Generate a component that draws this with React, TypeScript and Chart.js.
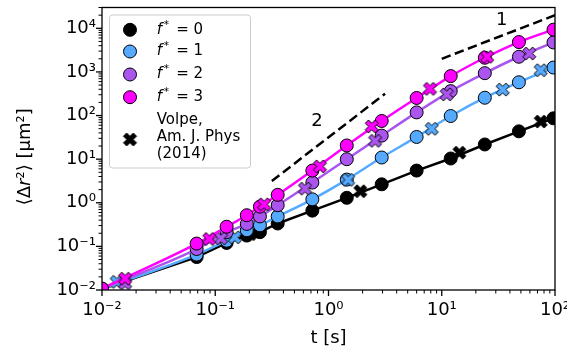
import React, { useEffect, useRef } from 'react';
import { Chart, registerables } from 'chart.js';

Chart.register(...registerables);

// ---- data ----
const times = [0.01, 0.0685, 0.126, 0.19, 0.248, 0.356, 0.72, 1.45, 2.95, 6.0, 12, 24, 48, 97];
const msdF0 = [0.0105, 0.057, 0.12, 0.177, 0.212, 0.335, 0.66, 1.3, 2.65, 5.47, 10.35, 21.7, 43.4, 86.5];
const msdF1 = [0.0105, 0.065, 0.135, 0.235, 0.305, 0.486, 1.2, 3.4, 10.9, 32.3, 97.5, 256, 579, 1259];
const msdF2 = [0.0107, 0.087, 0.212, 0.327, 0.486, 0.88, 2.91, 9.97, 34.6, 118, 363, 937, 2228, 4745];
const msdF3 = [0.0108, 0.116, 0.282, 0.518, 0.817, 1.52, 5.47, 20.6, 75, 253, 802, 2113, 4842, 9310];

const volpeF0T = [0.203, 1.91, 14.3, 74.8];
const volpeF0 = [0.191, 1.84, 14.1, 72.9];
const volpeF1T = [0.0135, 0.149, 1.49, 8.15, 34.5, 74.8];
const volpeF1 = [0.0154, 0.161, 3.36, 49.7, 394, 1094];
const volpeF2T = [0.016, 0.1125, 0.62, 2.58, 11.06, 59.3];
const volpeF2 = [0.0143, 0.153, 2.11, 26.3, 305, 2640];
const volpeF3T = [0.016, 0.0886, 0.27, 0.84, 2.41, 7.87, 25.2];
const volpeF3 = [0.0182, 0.148, 0.92, 6.83, 56.2, 409, 2228];

const slope2T = [0.316, 3.16];
const slope2Y = [3.16, 316];
const slope1T = [10, 100];
const slope1Y = [2000, 20000];
const slopeLabels = ['2', '1'];
const slopeLabelT = [0.79, 33.8];
const slopeLabelY = [73, 15400];

const fValues = ['0', '1', '2', '3'];
const volpeLabel = ['Volpe,', 'Am. J. Phys', '(2014)'];
const xTitle = 't [s]';
const xMin = 0.01, xMax = 100;
const yMin = 0.01, yMax = 30000;
const xDecades = [-2, -1, 0, 1, 2];
const yDecades = [-2, -1, 0, 1, 2, 3, 4];

// ---- styles ----
const COLORS = ['#000000', '#55aaff', '#aa55ee', '#ff00ff'];
const FONT = 'DejaVu Sans';

const SUP: Record<string, string> = { '-': '⁻', '0': '⁰', '1': '¹', '2': '²', '3': '³', '4': '⁴', '5': '⁵' };
const powLabel = (e: number) => '10' + String(e).split('').map((c) => SUP[c]).join('');

function makeTicks(decades: number[], max: number) {
  const out: { value: number; major: boolean }[] = [];
  for (const e of decades) {
    for (let m = 1; m <= 9; m++) {
      const v = m * Math.pow(10, e);
      if (v <= max * 1.0001) out.push({ value: v, major: m === 1 });
    }
  }
  return out;
}

function makeXMarker(fill: string): HTMLCanvasElement {
  const c = document.createElement('canvas');
  const size = 17;
  c.width = size;
  c.height = size;
  const g = c.getContext('2d')!;
  const s = 13 / 4;
  const verts = [[-1, -2], [0, -1], [1, -2], [2, -1], [1, 0], [2, 1], [1, 2], [0, 1], [-1, 2], [-2, 1], [-1, 0], [-2, -1]];
  g.translate(size / 2, size / 2);
  g.beginPath();
  verts.forEach(([x, y], i) => (i ? g.lineTo(x * s, y * s) : g.moveTo(x * s, y * s)));
  g.closePath();
  g.fillStyle = fill;
  g.fill();
  g.lineWidth = 1;
  g.strokeStyle = '#000';
  g.stroke();
  return c;
}

const pts = (xs: number[], ys: number[]) => xs.map((x, i) => ({ x, y: ys[i] }));

const decorPlugin = {
  id: 'decor',
  afterDatasetsDraw(chart: any) {
    const { ctx, chartArea: a, scales } = chart;
    ctx.save();
    ctx.strokeStyle = '#000';
    // tick marks
    for (const t of scales.x.ticks) {
      const px = scales.x.getPixelForValue(t.value);
      if (px < a.left - 0.5 || px > a.right + 0.5) continue;
      ctx.lineWidth = t.major ? 1.3 : 1;
      ctx.beginPath();
      ctx.moveTo(px, a.bottom);
      ctx.lineTo(px, a.bottom + (t.major ? 6 : 3.5));
      ctx.stroke();
    }
    for (const t of scales.y.ticks) {
      const py = scales.y.getPixelForValue(t.value);
      if (py < a.top - 0.5 || py > a.bottom + 0.5) continue;
      ctx.lineWidth = t.major ? 1.3 : 1;
      ctx.beginPath();
      ctx.moveTo(a.left, py);
      ctx.lineTo(a.left - (t.major ? 6 : 3.5), py);
      ctx.stroke();
    }
    ctx.lineWidth = 1.3;
    ctx.strokeRect(a.left, a.top, a.right - a.left, a.bottom - a.top);

    // slope labels
    ctx.fillStyle = '#000';
    ctx.font = `18px ${FONT}`;
    ctx.textAlign = 'center';
    ctx.textBaseline = 'middle';
    slopeLabels.forEach((s, i) => {
      ctx.fillText(s, scales.x.getPixelForValue(slopeLabelT[i]), scales.y.getPixelForValue(slopeLabelY[i]));
    });

    // y-axis title
    ctx.save();
    ctx.translate(25, (a.top + a.bottom) / 2 + 8);
    ctx.rotate(-Math.PI / 2);
    const segs = [
      { t: '⟨Δ', f: `18px ${FONT}` },
      { t: 'r', f: `italic 18px ${FONT}` },
      { t: '²⟩ [μm²]', f: `18px ${FONT}` },
    ];
    let total = 0;
    for (const s of segs) { ctx.font = s.f; total += ctx.measureText(s.t).width; }
    let x = -total / 2;
    ctx.textAlign = 'left';
    for (const s of segs) { ctx.font = s.f; ctx.fillText(s.t, x, 0); x += ctx.measureText(s.t).width; }
    ctx.restore();

    // legend
    const lx = a.left + 7.5, ly = a.top + 7.5, lw = 141, lh = 153;
    ctx.beginPath();
    (ctx as any).roundRect(lx, ly, lw, lh, 3);
    ctx.fillStyle = 'rgba(255,255,255,0.8)';
    ctx.fill();
    ctx.lineWidth = 1;
    ctx.strokeStyle = '#cccccc';
    ctx.stroke();
    const mx = a.left + 28;
    const tx = a.left + 54.7;
    const rowY = [22.3, 44, 67, 89.7];
    fValues.forEach((v, i) => {
      const y = a.top + rowY[i];
      ctx.beginPath();
      ctx.arc(mx, y, 6.5, 0, Math.PI * 2);
      ctx.fillStyle = COLORS[i];
      ctx.fill();
      ctx.lineWidth = 1;
      ctx.strokeStyle = '#000';
      ctx.stroke();
      ctx.fillStyle = '#000';
      ctx.textAlign = 'left';
      ctx.textBaseline = 'middle';
      ctx.font = `italic 15px ${FONT}`;
      ctx.fillText('f', tx, y);
      ctx.font = `10.5px ${FONT}`;
      ctx.fillText('*', tx + 7, y - 5);
      ctx.font = `15px ${FONT}`;
      ctx.fillText('= ' + v, tx + 19.5, y);
    });
    const xm = makeXMarker('#000');
    ctx.drawImage(xm, mx - 8.5, a.top + 132 - 8.5);
    ctx.font = `15px ${FONT}`;
    ctx.fillStyle = '#000';
    volpeLabel.forEach((s, i) => ctx.fillText(s, tx, a.top + 113 + i * 16.7));
    ctx.restore();
  },
};

export default function App() {
  const ref = useRef<HTMLCanvasElement | null>(null);
  useEffect(() => {
    document.body.style.margin = '0';
    Chart.defaults.font.family = FONT;
    Chart.defaults.color = '#000';
    const msd = [msdF0, msdF1, msdF2, msdF3];
    const vT = [volpeF0T, volpeF1T, volpeF2T, volpeF3T];
    const vY = [volpeF0, volpeF1, volpeF2, volpeF3];
    const datasets: any[] = [];
    datasets.push({
      data: pts(slope2T, slope2Y), showLine: true, borderColor: '#000', borderWidth: 2.5,
      borderDash: [9.5, 4.5], pointRadius: 0, order: 20, clip: 0,
    });
    datasets.push({
      data: pts(slope1T, slope1Y), showLine: true, borderColor: '#000', borderWidth: 2.5,
      borderDash: [9.5, 4.5], pointRadius: 0, order: 20, clip: 0,
    });
    for (let i = 0; i < 4; i++) {
      datasets.push({
        data: pts(times, msd[i]), showLine: true, borderColor: COLORS[i], borderWidth: 2.5,
        cubicInterpolationMode: i === 0 ? 'default' : 'monotone', tension: 0,
        pointRadius: 6.5, pointBackgroundColor: COLORS[i], pointBorderColor: '#000', pointBorderWidth: 1,
        order: 10 - i * 2, clip: 0,
      });
      datasets.push({
        data: pts(vT[i], vY[i]), showLine: false, pointStyle: makeXMarker(COLORS[i]),
        pointRadius: 6.5, order: 9 - i * 2, clip: 0,
      });
    }
    const chart = new Chart(ref.current!, {
      type: 'scatter',
      data: { datasets },
      plugins: [decorPlugin],
      options: {
        animation: false,
        responsive: true,
        maintainAspectRatio: false,
        events: [],
        layout: { padding: { top: 2, right: 12, left: 0, bottom: 0 } },
        plugins: { legend: { display: false }, tooltip: { enabled: false } },
        scales: {
          x: {
            type: 'logarithmic', min: xMin, max: xMax,
            grid: { display: false, drawTicks: false, tickLength: 0 },
            border: { display: false },
            afterBuildTicks: (s: any) => { s.ticks = makeTicks(xDecades, xMax); },
            afterFit: (s: any) => { s.height = 63; s.paddingLeft = 0; s.paddingRight = 0; },
            ticks: {
              autoSkip: false, maxRotation: 0, padding: 10, font: { size: 18 },
              callback: (v: any, i: number, t: any[]) => (t[i].major ? powLabel(Math.round(Math.log10(v))) : ''),
            },
            title: { display: true, text: xTitle, font: { size: 18, lineHeight: 1.2 }, padding: { top: 0, bottom: 4 } },
          },
          y: {
            type: 'logarithmic', min: yMin, max: yMax,
            grid: { display: false, drawTicks: false, tickLength: 0 },
            border: { display: false },
            afterBuildTicks: (s: any) => { s.ticks = makeTicks(yDecades, yMax); },
            afterFit: (s: any) => { s.width = 102; s.paddingTop = 0; s.paddingBottom = 0; },
            ticks: {
              autoSkip: false, padding: 6, font: { size: 18 },
              callback: (v: any, i: number, t: any[]) => (t[i].major ? powLabel(Math.round(Math.log10(v))) : ''),
            },
          },
        },
      } as any,
    });
    return () => chart.destroy();
  }, []);
  return (
    <div style={{ width: 567, height: 353, position: 'relative' }}>
      <canvas ref={ref} />
    </div>
  );
}
